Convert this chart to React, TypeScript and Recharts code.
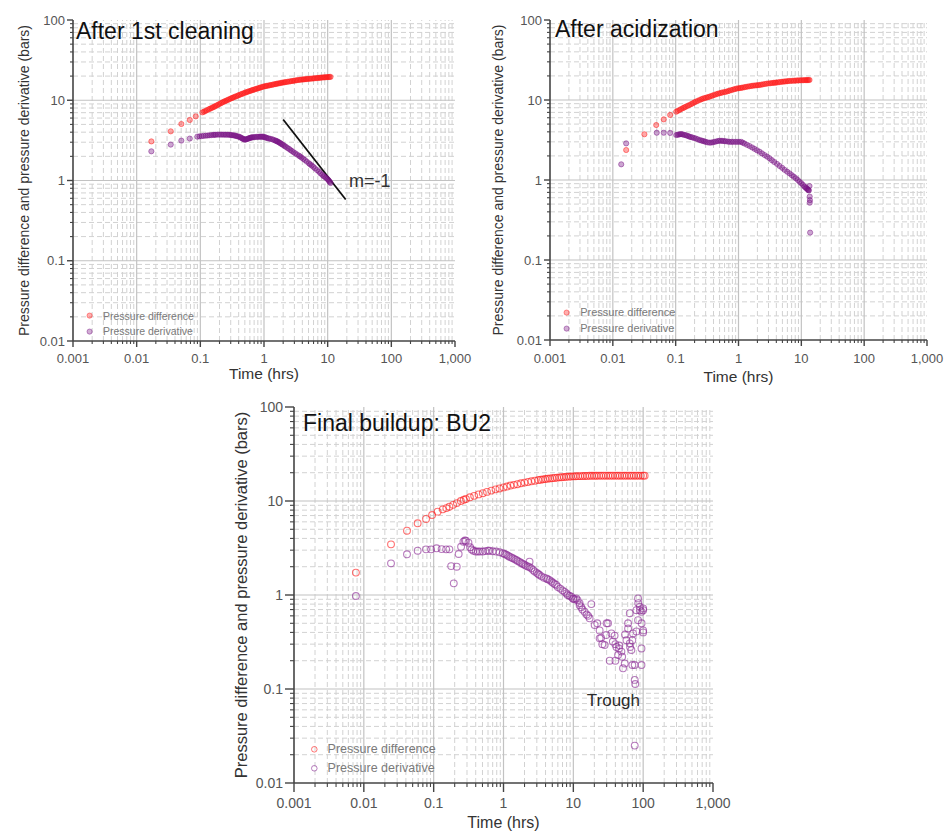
import React from 'react';
import { ScatterChart, Scatter, XAxis, YAxis, ReferenceLine, ReferenceDot, Legend } from 'recharts';

type Pt = [number, number];

// ---------- tick values / labels ----------
const xMajorTicks = [0.001, 0.01, 0.1, 1, 10, 100, 1000];
const xTickLabels = ['0.001', '0.01', '0.1', '1', '10', '100', '1,000'];
const yMajorTicks = [0.01, 0.1, 1, 10, 100];
const yTickLabels = ['0.01', '0.1', '1', '10', '100'];
const minorFactors = [2, 3, 4, 5, 6, 7, 8, 9];

const seriesNames = ['Pressure difference', 'Pressure derivative'];
const panelTitles = ['After 1st cleaning', 'After acidization', 'Final buildup: BU2'];
const xAxisTitle = 'Time (hrs)';
const yAxisTitle = 'Pressure difference and pressure derivative (bars)';

const slopeLabel = 'm=-1';
const slopeLine: Pt[] = [[2, 5.75], [19.2, 0.58]];
const slopeLabelPos: Pt = [21.6, 1.0];
const troughLabel = 'Trough';
const troughPos: Pt = [37.5, 0.076];

// ---------- data: [time (hrs), value (bars)] ----------
const p1Diff: Pt[] = [
  [0.017, 3.07], [0.0343, 4.1], [0.0503, 5.06], [0.0683, 5.68], [0.0848, 6.3], [0.1076, 7.06],
  [0.114, 7.2], [0.12, 7.35], [0.127, 7.52], [0.135, 7.7], [0.142, 7.85], [0.15, 8.0], [0.157, 8.15],
  [0.165, 8.3], [0.172, 8.45], [0.18, 8.6], [0.19, 8.8], [0.2, 9.0], [0.211, 9.2], [0.222, 9.4],
  [0.233, 9.58], [0.245, 9.75], [0.257, 9.93], [0.27, 10.1], [0.285, 10.3], [0.3, 10.5], [0.315, 10.68],
  [0.33, 10.85], [0.347, 11.03], [0.365, 11.2], [0.385, 11.4], [0.405, 11.6], [0.427, 11.8], [0.45, 12.0],
  [0.475, 12.2], [0.5, 12.4], [0.525, 12.58], [0.55, 12.75], [0.58, 12.93], [0.61, 13.1], [0.64, 13.28],
  [0.67, 13.45], [0.705, 13.63], [0.74, 13.8], [0.78, 13.98], [0.82, 14.15], [0.86, 14.33], [0.9, 14.5],
  [0.95, 14.68], [1.0, 14.85], [1.05, 14.98], [1.1, 15.1], [1.16, 15.23], [1.22, 15.35], [1.28, 15.48],
  [1.35, 15.6], [1.42, 15.75], [1.5, 15.9], [1.57, 16.03], [1.65, 16.15], [1.73, 16.28], [1.82, 16.4],
  [1.91, 16.53], [2.0, 16.65], [2.1, 16.75], [2.2, 16.85], [2.33, 16.98], [2.47, 17.1], [2.6, 17.23],
  [2.75, 17.35], [2.9, 17.48], [3.05, 17.6], [3.22, 17.73], [3.4, 17.85], [3.6, 17.95], [3.8, 18.05],
  [4.0, 18.13], [4.2, 18.2], [4.4, 18.28], [4.6, 18.35], [4.85, 18.43], [5.1, 18.5], [5.4, 18.58],
  [5.7, 18.65], [6.0, 18.73], [6.3, 18.8], [6.65, 18.88], [7.0, 18.95], [7.35, 19.03], [7.7, 19.1],
  [8.1, 19.18], [8.5, 19.25], [8.9, 19.3], [9.3, 19.35], [9.75, 19.4], [10.2, 19.45], [10.65, 19.5],
  [11.1, 19.55],
];
const p1Deriv: Pt[] = [
  [0.017, 2.31], [0.0343, 2.8], [0.0503, 3.14], [0.0683, 3.33], [0.0897, 3.52], [0.097, 3.55],
  [0.105, 3.57], [0.113, 3.6], [0.122, 3.62], [0.131, 3.64], [0.14, 3.66], [0.15, 3.68], [0.16, 3.7],
  [0.168, 3.71], [0.175, 3.72], [0.187, 3.73], [0.2, 3.73], [0.212, 3.73], [0.225, 3.73], [0.237, 3.73],
  [0.25, 3.72], [0.266, 3.72], [0.282, 3.72], [0.296, 3.7], [0.31, 3.68], [0.325, 3.66], [0.34, 3.64],
  [0.355, 3.61], [0.37, 3.58], [0.387, 3.55], [0.405, 3.52], [0.422, 3.46], [0.44, 3.4], [0.455, 3.35],
  [0.47, 3.3], [0.486, 3.26], [0.503, 3.23], [0.52, 3.25], [0.54, 3.28], [0.56, 3.32], [0.58, 3.36],
  [0.6, 3.39], [0.62, 3.42], [0.64, 3.44], [0.656, 3.45], [0.69, 3.47], [0.72, 3.48], [0.76, 3.49],
  [0.8, 3.5], [0.835, 3.51], [0.87, 3.52], [0.905, 3.52], [0.94, 3.52], [0.98, 3.5], [1.02, 3.47],
  [1.06, 3.44], [1.1, 3.4], [1.15, 3.36], [1.2, 3.33], [1.27, 3.3], [1.35, 3.26], [1.42, 3.21],
  [1.5, 3.15], [1.55, 3.12], [1.6, 3.08], [1.66, 3.04], [1.72, 2.99], [1.78, 2.94], [1.85, 2.88],
  [1.92, 2.83], [2.0, 2.77], [2.1, 2.7], [2.2, 2.63], [2.33, 2.55], [2.47, 2.48], [2.6, 2.4],
  [2.75, 2.33], [2.92, 2.25], [3.1, 2.18], [3.3, 2.11], [3.54, 2.04], [3.7, 1.99], [3.9, 1.93],
  [4.15, 1.86], [4.4, 1.8], [4.7, 1.72], [5.08, 1.64], [5.3, 1.59], [5.6, 1.54], [5.95, 1.48],
  [6.3, 1.42], [6.8, 1.35], [7.3, 1.29], [7.7, 1.23], [8.2, 1.18], [8.6, 1.14], [9.0, 1.11],
  [9.4, 1.08], [9.86, 1.05], [10.2, 1.02], [10.5, 0.99], [10.8, 0.96], [11.1, 0.93],
];
const p2Diff: Pt[] = [
  [0.0163, 2.37], [0.0318, 3.73], [0.049, 4.87], [0.0646, 5.73], [0.0817, 6.5], [0.102, 7.14],
  [0.108, 7.32], [0.115, 7.5], [0.122, 7.7], [0.13, 7.9], [0.137, 8.07], [0.145, 8.25], [0.155, 8.45],
  [0.165, 8.65], [0.176, 8.88], [0.187, 9.1], [0.198, 9.33], [0.21, 9.55], [0.225, 9.78], [0.24, 10.0],
  [0.255, 10.2], [0.27, 10.4], [0.287, 10.55], [0.305, 10.7], [0.325, 10.85], [0.345, 11.0], [0.367, 11.2],
  [0.39, 11.4], [0.415, 11.6], [0.44, 11.8], [0.47, 11.98], [0.5, 12.15], [0.53, 12.3], [0.56, 12.45],
  [0.6, 12.58], [0.637, 12.7], [0.68, 12.9], [0.72, 13.1], [0.77, 13.3], [0.82, 13.5], [0.875, 13.7],
  [0.93, 13.9], [0.99, 14.0], [1.05, 14.1], [1.11, 14.2], [1.17, 14.3], [1.245, 14.45], [1.32, 14.6],
  [1.41, 14.73], [1.5, 14.85], [1.6, 14.98], [1.7, 15.1], [1.81, 15.18], [1.92, 15.25], [2.04, 15.33],
  [2.16, 15.4], [2.3, 15.55], [2.45, 15.7], [2.62, 15.85], [2.8, 16.0], [3.0, 16.1], [3.2, 16.2],
  [3.4, 16.3], [3.6, 16.4], [3.8, 16.45], [3.98, 16.5], [4.25, 16.63], [4.5, 16.75], [4.8, 16.85],
  [5.1, 16.95], [5.4, 17.03], [5.7, 17.1], [6.05, 17.2], [6.4, 17.3], [6.85, 17.35], [7.3, 17.4],
  [7.75, 17.45], [8.2, 17.5], [8.7, 17.55], [9.2, 17.6], [9.75, 17.63], [10.3, 17.65], [10.9, 17.68],
  [11.5, 17.7], [12.0, 17.73], [12.5, 17.75], [13.0, 17.78], [13.5, 17.8],
];
const p2Deriv: Pt[] = [
  [0.0136, 1.57], [0.0163, 2.87], [0.05, 3.9], [0.0646, 3.9], [0.0817, 3.88], [0.102, 3.65],
  [0.107, 3.68], [0.112, 3.7], [0.117, 3.73], [0.122, 3.75], [0.128, 3.72], [0.135, 3.68], [0.142, 3.64],
  [0.15, 3.6], [0.158, 3.54], [0.166, 3.48], [0.175, 3.44], [0.185, 3.4], [0.197, 3.35], [0.21, 3.3],
  [0.225, 3.23], [0.24, 3.16], [0.255, 3.12], [0.27, 3.08], [0.285, 3.04], [0.3, 3.0], [0.32, 2.96],
  [0.345, 2.93], [0.367, 2.94], [0.39, 2.96], [0.415, 3.0], [0.44, 3.03], [0.47, 3.07], [0.5, 3.1],
  [0.53, 3.09], [0.56, 3.08], [0.595, 3.06], [0.63, 3.05], [0.675, 3.02], [0.72, 3.0], [0.77, 3.0],
  [0.82, 3.0], [0.885, 3.0], [0.95, 3.0], [1.02, 3.0], [1.1, 3.0], [1.17, 2.93], [1.25, 2.85],
  [1.37, 2.75], [1.5, 2.66], [1.65, 2.55], [1.8, 2.45], [1.97, 2.35], [2.16, 2.26], [2.37, 2.15],
  [2.6, 2.05], [2.85, 1.96], [3.12, 1.87], [3.4, 1.77], [3.7, 1.68], [4.1, 1.59], [4.5, 1.5],
  [4.95, 1.42], [5.4, 1.34], [5.95, 1.27], [6.5, 1.21], [7.05, 1.15], [7.6, 1.1], [8.2, 1.05],
  [8.8, 1.0], [9.4, 0.95], [10.0, 0.91], [10.6, 0.87], [11.2, 0.83], [11.6, 0.81], [12.0, 0.79],
  [12.35, 0.775], [12.7, 0.76], [12.95, 0.75], [13.2, 0.74], [13.5, 0.84], [13.6, 0.62], [13.7, 0.56],
  [13.6, 0.52], [13.8, 0.22],
];
const p3Diff: Pt[] = [
  [0.0077, 1.73], [0.0245, 3.46], [0.0415, 4.83], [0.059, 5.79], [0.0778, 6.44], [0.095, 7.1],
  [0.114, 7.7], [0.135, 8.15], [0.152, 8.4], [0.168, 8.7], [0.19, 9.1], [0.215, 9.5], [0.245, 10.0],
  [0.27, 10.3], [0.29, 10.5], [0.33, 10.95], [0.38, 11.35], [0.44, 11.75], [0.505, 12.1], [0.58, 12.5],
  [0.67, 12.9], [0.77, 13.3], [0.877, 13.6], [1.0, 13.95], [1.12, 14.25], [1.26, 14.6], [1.41, 14.85],
  [1.58, 15.1], [1.78, 15.45], [2.0, 15.7], [2.24, 15.95], [2.51, 16.2], [2.82, 16.45], [3.16, 16.7],
  [3.42, 16.85], [3.68, 17.0], [3.98, 17.15], [4.29, 17.28], [4.64, 17.4], [5.01, 17.5], [5.41, 17.62],
  [5.84, 17.72], [6.31, 17.85], [6.81, 17.92], [7.36, 18.0], [7.94, 18.1], [8.58, 18.15], [9.26, 18.2],
  [10.0, 18.3], [10.8, 18.33], [11.7, 18.37], [12.6, 18.4], [13.6, 18.43], [14.7, 18.47], [15.8, 18.5],
  [17.1, 18.53], [18.5, 18.55], [20.0, 18.55], [21.5, 18.57], [23.3, 18.6], [25.1, 18.6], [27.1, 18.6],
  [29.3, 18.6], [31.6, 18.6], [34.1, 18.6], [36.8, 18.6], [39.8, 18.6], [43.0, 18.6], [46.4, 18.6],
  [50.1, 18.6], [54.1, 18.6], [58.4, 18.6], [63.1, 18.6], [68.1, 18.6], [73.6, 18.6], [79.4, 18.6],
  [85.8, 18.6], [92.6, 18.6], [100, 18.6], [105, 18.6],
];
const p3Deriv: Pt[] = [
  [0.0077, 0.976], [0.0245, 2.17], [0.0415, 2.71], [0.059, 2.96], [0.0778, 3.06], [0.0918, 3.06],
  [0.11, 3.14], [0.13, 3.08], [0.151, 3.06], [0.168, 3.06], [0.178, 2.03], [0.194, 1.33], [0.214, 2.0],
  [0.228, 2.73], [0.247, 3.26], [0.267, 3.69], [0.28, 3.8], [0.29, 3.78], [0.315, 3.6], [0.333, 3.22],
  [0.35, 3.05], [0.371, 2.96], [0.4, 2.9], [0.428, 2.9], [0.46, 2.9], [0.505, 2.9], [0.55, 2.93],
  [0.6, 2.96], [0.63, 2.96], [0.7, 2.92], [0.785, 2.9], [0.88, 2.85], [0.98, 2.78], [1.04, 2.73],
  [1.1, 2.68], [1.16, 2.62], [1.22, 2.56], [1.29, 2.51], [1.36, 2.46], [1.44, 2.41], [1.52, 2.36],
  [1.6, 2.3], [1.7, 2.25], [1.8, 2.19], [1.89, 2.14], [2.0, 2.1], [2.1, 2.05], [2.23, 2.01],
  [2.36, 2.26], [2.36, 1.98], [2.5, 1.92], [2.65, 1.85], [2.8, 1.78], [3.0, 1.72], [3.14, 1.67],
  [3.28, 1.63], [3.5, 1.58], [3.8, 1.53], [4.1, 1.5], [4.3, 1.47], [4.57, 1.44], [4.85, 1.39],
  [5.1, 1.35], [5.4, 1.31], [5.7, 1.28], [6.0, 1.22], [6.5, 1.17], [7.0, 1.12], [7.5, 1.08],
  [8.0, 1.04], [8.3, 1.0], [8.8, 0.98], [9.35, 0.96], [9.87, 0.92], [10.0, 0.91], [10.5, 0.9],
  [11.0, 0.92], [11.5, 0.88], [12.3, 0.82], [12.3, 0.78], [13.0, 0.74], [13.5, 0.7], [14.5, 0.665],
  [15.5, 0.62], [16.3, 0.6], [17.1, 0.565], [18.1, 0.8], [20.2, 0.48], [22.0, 0.5], [23.8, 0.42],
  [23.8, 0.346], [25.0, 0.35], [26.0, 0.3], [28.1, 0.294], [29.6, 0.375], [30.0, 0.5], [31.4, 0.5],
  [33.2, 0.2], [35.1, 0.39], [36.8, 0.32], [39.0, 0.37], [40.0, 0.3], [40.0, 0.2], [41.4, 0.28],
  [43.7, 0.23], [45.0, 0.27], [45.5, 0.29], [48.8, 0.25], [50.0, 0.22], [51.5, 0.166], [54.5, 0.187],
  [55.0, 0.38], [57.6, 0.33], [60.8, 0.5], [60.8, 0.44], [64.3, 0.306], [64.3, 0.64], [65.0, 0.28],
  [67.8, 0.26], [70.0, 0.33], [70.0, 0.18], [71.6, 0.39], [75.7, 0.18], [75.7, 0.125], [77.0, 0.113],
  [75.7, 0.025], [80.0, 0.69], [80.0, 0.41], [84.5, 0.54], [84.5, 0.92], [85.0, 0.82], [89.4, 0.75],
  [90.0, 0.69], [94.6, 0.665], [94.6, 0.27], [94.6, 0.18], [95.0, 0.5], [100, 0.72], [100, 0.42],
  [100, 0.69], [100, 0.4],
];

// ---------- derived tick / grid tables ----------
const xMinor = xMajorTicks.slice(0, -1).flatMap((d) => minorFactors.map((f) => +(d * f).toPrecision(3)));
const yMinor = yMajorTicks.slice(0, -1).flatMap((d) => minorFactors.map((f) => +(d * f).toPrecision(3)));
const xAllTicks = [...xMajorTicks, ...xMinor].sort((a, b) => a - b);
const yAllTicks = [...yMajorTicks, ...yMinor].sort((a, b) => a - b);
const xGridMajor = xMajorTicks.slice(1, -1);
const yGridMajor = yMajorTicks.slice(1, -1);

const toRows = (pts: Pt[]) => pts.map(([t, v]) => ({ t, v }));

const FONT = '"Liberation Sans", Arial, sans-serif';
const AXIS = '#444';
const TICK_TEXT = '#555';
const RED = '#ff1a1a';
const PURPLE = '#7a1585';
const PURPLE3 = '#8a2a95';

type Cfg = {
  left: number; top: number; width: number; height: number;
  margin: { top: number; right: number; bottom: number; left: number };
  xAxisH: number; yAxisW: number;
  majorLen: number; minorLen: number;
  tickFont: number; xLabelGap: number; yLabelGap: number;
  yTitleFont: number; yTitleOffset: number;
  xTitleFont: number; xTitleOffset: number;
  titleLeft: number; titleTop: number;
  legLeft: number; legTop: number; legRow: number; legFont: number; legGap: number; legR: number;
  r: number; open: boolean; purple: string;
  diff: Pt[]; deriv: Pt[]; title: string;
  slope?: boolean; trough?: boolean;
};

const panels: Cfg[] = [
  {
    left: 0, top: 0, width: 480, height: 390,
    margin: { top: 20, right: 25, bottom: 9, left: 13 }, xAxisH: 40, yAxisW: 60,
    majorLen: 6, minorLen: 3, tickFont: 13, xLabelGap: 17, yLabelGap: 8,
    yTitleFont: 14, yTitleOffset: 11, xTitleFont: 15.5, xTitleOffset: 2.5,
    titleLeft: 76, titleTop: 20,
    legLeft: 85.8, legTop: 308.2, legRow: 15.3, legFont: 10.5, legGap: 10, legR: 2.6,
    r: 2.6, open: false, purple: PURPLE,
    diff: p1Diff, deriv: p1Deriv, title: panelTitles[0], slope: true,
  },
  {
    left: 480, top: 0, width: 468, height: 390,
    margin: { top: 20, right: 21, bottom: 6, left: 10 }, xAxisH: 44, yAxisW: 60,
    majorLen: 6, minorLen: 3, tickFont: 13, xLabelGap: 18, yLabelGap: 8,
    yTitleFont: 14, yTitleOffset: 8, xTitleFont: 15.5, xTitleOffset: 2.3,
    titleLeft: 75, titleTop: 17.5,
    legLeft: 82.5, legTop: 304.9, legRow: 15.6, legFont: 11, legGap: 10.5, legR: 2.6,
    r: 2.6, open: false, purple: PURPLE,
    diff: p2Diff, deriv: p2Deriv, title: panelTitles[1],
  },
  {
    left: 220, top: 390, width: 520, height: 443,
    margin: { top: 17, right: 27, bottom: 4, left: 14 }, xAxisH: 46, yAxisW: 60,
    majorLen: 9, minorLen: 4, tickFont: 14, xLabelGap: 20, yLabelGap: 11,
    yTitleFont: 16.5, yTitleOffset: 7, xTitleFont: 16, xTitleOffset: 0.7,
    titleLeft: 83, titleTop: 21.5,
    legLeft: 89.5, legTop: 350, legRow: 18.7, legFont: 12.5, legGap: 9.5, legR: 3.3,
    r: 3.4, open: true, purple: PURPLE3,
    diff: p3Diff, deriv: p3Deriv, title: panelTitles[2], trough: true,
  },
];

function makeXTick(c: Cfg) {
  return (props: any) => {
    const { x, y, payload } = props;
    const v = payload.value;
    const i = xMajorTicks.indexOf(v);
    const major = i >= 0;
    return (
      <g>
        <line x1={x} y1={y} x2={x} y2={y + (major ? c.majorLen : c.minorLen)} stroke={AXIS} strokeWidth={major ? 1.4 : 1.1} />
        {major && (
          <text x={x} y={y + c.xLabelGap} dy="0.36em" textAnchor="middle" fontSize={c.tickFont} fill={TICK_TEXT} fontFamily={FONT}>
            {xTickLabels[i]}
          </text>
        )}
      </g>
    );
  };
}

function makeYTick(c: Cfg) {
  return (props: any) => {
    const { x, y, payload } = props;
    const v = payload.value;
    const i = yMajorTicks.indexOf(v);
    const major = i >= 0;
    return (
      <g>
        <line x1={x} y1={y} x2={x - (major ? c.majorLen : c.minorLen)} y2={y} stroke={AXIS} strokeWidth={major ? 1.4 : 1.1} />
        {major && (
          <text x={x - c.yLabelGap} y={y} dy="0.36em" textAnchor="end" fontSize={c.tickFont} fill={TICK_TEXT} fontFamily={FONT}>
            {yTickLabels[i]}
          </text>
        )}
      </g>
    );
  };
}

function makeShape(c: Cfg, color: string) {
  return (p: any) => {
    if (p.cx == null || p.cy == null) return <g />;
    return c.open ? (
      <circle cx={p.cx} cy={p.cy} r={c.r} fill="none" stroke={color} strokeOpacity={0.62} strokeWidth={1.1} />
    ) : (
      <circle cx={p.cx} cy={p.cy} r={c.r} fill={color} fillOpacity={0.38} stroke={color} strokeOpacity={0.62} strokeWidth={0.8} />
    );
  };
}

function makeLegend(c: Cfg) {
  return (props: any) => {
    const items: any[] = [...(props.payload ?? [])].sort(
      (a, b) => seriesNames.indexOf(a.value) - seriesNames.indexOf(b.value),
    );
    const s = c.legR * 2 + 2;
    return (
      <div style={{ fontFamily: FONT }}>
        {items.map((it, i) => (
          <div key={i} style={{ display: 'flex', alignItems: 'center', height: c.legRow }}>
            <svg width={s} height={s} style={{ display: 'block' }}>
              {c.open ? (
                <circle cx={s / 2} cy={s / 2} r={c.legR - 0.5} fill="none" stroke={it.color} strokeOpacity={0.6} strokeWidth={1} />
              ) : (
                <circle cx={s / 2} cy={s / 2} r={c.legR} fill={it.color} fillOpacity={0.35} stroke={it.color} strokeOpacity={0.55} strokeWidth={0.8} />
              )}
            </svg>
            <span style={{ marginLeft: c.legGap, fontSize: c.legFont, color: '#7a7a7a', whiteSpace: 'nowrap', lineHeight: 1 }}>
              {it.value}
            </span>
          </div>
        ))}
      </div>
    );
  };
}

function Panel({ c }: { c: Cfg }) {
  return (
    <div style={{ position: 'absolute', left: c.left, top: c.top, width: c.width, height: c.height, fontFamily: FONT }}>
      <ScatterChart width={c.width} height={c.height} margin={c.margin}>
        {xMinor.map((v) => (
          <ReferenceLine key={'xm' + v} x={v} stroke="#d2d2d2" strokeDasharray="5 3" strokeWidth={1} />
        ))}
        {yMinor.map((v) => (
          <ReferenceLine key={'ym' + v} y={v} stroke="#d2d2d2" strokeDasharray="5 3" strokeWidth={1} />
        ))}
        {xGridMajor.map((v) => (
          <ReferenceLine key={'xM' + v} x={v} stroke="#c2c2c2" strokeWidth={1.2} />
        ))}
        {yGridMajor.map((v) => (
          <ReferenceLine key={'yM' + v} y={v} stroke="#c2c2c2" strokeWidth={1.2} />
        ))}
        <XAxis
          dataKey="t" type="number" scale="log" domain={[0.001, 1000]} allowDataOverflow
          ticks={xAllTicks} interval={0} tickSize={0} tickMargin={0} tickLine={false}
          tick={makeXTick(c)} axisLine={{ stroke: AXIS, strokeWidth: 1.6 }} height={c.xAxisH}
          label={{ value: xAxisTitle, position: 'insideBottom', offset: c.xTitleOffset, fontSize: c.xTitleFont, fill: '#333' }}
        />
        <YAxis
          dataKey="v" type="number" scale="log" domain={[0.01, 100]} allowDataOverflow
          ticks={yAllTicks} interval={0} tickSize={0} tickMargin={0} tickLine={false}
          tick={makeYTick(c)} axisLine={{ stroke: AXIS, strokeWidth: 1.6 }} width={c.yAxisW}
          label={{ value: yAxisTitle, angle: -90, position: 'insideLeft', offset: c.yTitleOffset, fontSize: c.yTitleFont, fill: '#333', style: { textAnchor: 'middle' } }}
        />
        <Scatter name={seriesNames[0]} data={toRows(c.diff)} fill={RED} shape={makeShape(c, RED)} isAnimationActive={false} legendType="circle" />
        <Scatter name={seriesNames[1]} data={toRows(c.deriv)} fill={c.purple} shape={makeShape(c, c.purple)} isAnimationActive={false} legendType="circle" />
        {c.slope && (
          <ReferenceLine
            segment={[{ x: slopeLine[0][0], y: slopeLine[0][1] }, { x: slopeLine[1][0], y: slopeLine[1][1] }]}
            stroke="#111" strokeWidth={1.8}
          />
        )}
        {c.slope && (
          <ReferenceDot x={slopeLabelPos[0]} y={slopeLabelPos[1]} r={0} fill="none" stroke="none"
            label={{ value: slopeLabel, position: 'right', offset: 0, fontSize: 18, fill: '#333' }} />
        )}
        {c.trough && (
          <ReferenceDot x={troughPos[0]} y={troughPos[1]} r={0} fill="none" stroke="none"
            label={{ value: troughLabel, position: 'center', fontSize: 17, fill: '#2a2a2a' }} />
        )}
        <Legend
          layout="vertical" align="center" verticalAlign="middle"
          wrapperStyle={{ left: c.legLeft, top: c.legTop, width: 'auto', height: 'auto' }}
          content={makeLegend(c)}
        />
      </ScatterChart>
      <div style={{ position: 'absolute', left: c.titleLeft, top: c.titleTop, fontSize: 23, lineHeight: '23px', color: '#111', whiteSpace: 'nowrap', pointerEvents: 'none' }}>
        {c.title}
      </div>
    </div>
  );
}

export default function App() {
  return (
    <div style={{ position: 'absolute', left: 0, top: 0, width: 948, height: 833, background: '#fff', overflow: 'hidden' }}>
      {panels.map((c, i) => (
        <Panel key={i} c={c} />
      ))}
    </div>
  );
}
